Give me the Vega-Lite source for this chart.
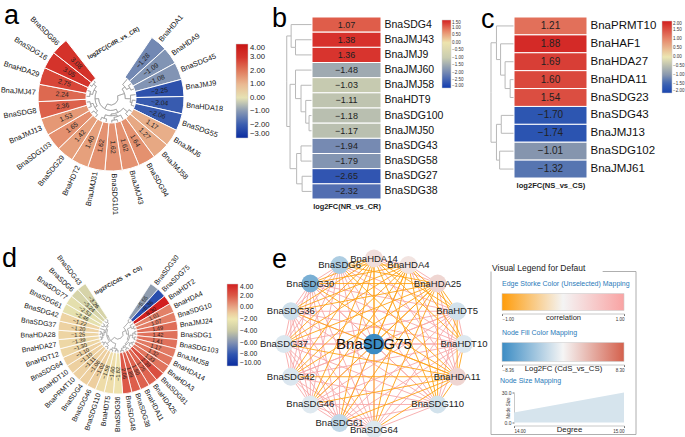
{
"$schema":"https://vega.github.io/schema/vega-lite/v6.json",
"background":"white",
"padding":{"left":0,"top":2,"right":0,"bottom":0},
"config":{"font":"Liberation Sans","view":{"stroke":null},"axis":{"grid":false}},
"datasets":{
"aGenes":[{"g":"BnaHDA1","v":-1.28},{"g":"BnaHDA9","v":-1.09},{"g":"BnaSDG45","v":-1.08},{"g":"BnaJMJ9","v":-2.25},{"g":"BnaHDA18","v":-2.04},{"g":"BnaSDG55","v":-2.06},{"g":"BnaJMJ6","v":1.17},{"g":"BnaJMJ58","v":1.27},{"g":"BnaSDG94","v":1.64},{"g":"BnaJMJ43","v":1.62},{"g":"BnaSDG101","v":1.62},{"g":"BnaJMJ31","v":1.62},{"g":"BnaHDT2","v":1.40},{"g":"BnaSDG29","v":1.42},{"g":"BnaSDG103","v":1.65},{"g":"BnaJMJ13","v":1.53},{"g":"BnaSDG8","v":2.36},{"g":"BnaJMJ47","v":2.24},{"g":"BnaHDA29","v":2.75},{"g":"BnaSDG16","v":3.05},{"g":"BnaSDG86","v":3.08}],
"aTree":[{"id":"L0","p":"n2","t":0.5,"h":0},{"id":"L1","p":"n1","t":1.5,"h":0},{"id":"L2","p":"n1","t":2.5,"h":0},{"id":"L3","p":"n4","t":3.5,"h":0},{"id":"L4","p":"n3","t":4.5,"h":0},{"id":"L5","p":"n3","t":5.5,"h":0},{"id":"L6","p":"n6","t":6.5,"h":0},{"id":"L7","p":"n6","t":7.5,"h":0},{"id":"L8","p":"n8","t":8.5,"h":0},{"id":"L9","p":"n7","t":9.5,"h":0},{"id":"L10","p":"n7","t":10.5,"h":0},{"id":"L11","p":"n9","t":11.5,"h":0},{"id":"L12","p":"n9","t":12.5,"h":0},{"id":"L13","p":"n12","t":13.5,"h":0},{"id":"L14","p":"n12","t":14.5,"h":0},{"id":"L15","p":"n13","t":15.5,"h":0},{"id":"L16","p":"n13","t":16.5,"h":0},{"id":"L17","p":"n15","t":17.5,"h":0},{"id":"L18","p":"n15","t":18.5,"h":0},{"id":"L19","p":"n16","t":19.5,"h":0},{"id":"L20","p":"n16","t":20.5,"h":0},{"id":"n1","p":"n2","t":2.0,"h":2},{"id":"n2","p":"n5","t":1.25,"h":4},{"id":"n3","p":"n4","t":5.0,"h":2},{"id":"n4","p":"n5","t":4.25,"h":3},{"id":"n5","p":"R","t":2.75,"h":6},{"id":"n6","p":"n11","t":7.0,"h":2},{"id":"n7","p":"n8","t":10.0,"h":1.5},{"id":"n8","p":"n10","t":9.25,"h":3},{"id":"n9","p":"n10","t":12.0,"h":2},{"id":"n10","p":"n11","t":10.63,"h":4},{"id":"n11","p":"n19","t":8.81,"h":5},{"id":"n12","p":"n14","t":14.0,"h":2},{"id":"n13","p":"n14","t":16.0,"h":2},{"id":"n14","p":"n18","t":15.0,"h":3.5},{"id":"n15","p":"n17","t":18.0,"h":2},{"id":"n16","p":"n17","t":20.0,"h":1.5},{"id":"n17","p":"n18","t":19.0,"h":3.5},{"id":"n18","p":"n19","t":17.0,"h":5},{"id":"n19","p":"R","t":12.9,"h":7},{"id":"R","p":null,"t":7.83,"h":10}],
"dGenes":[{"g":"BnaSDG30","v":-5.55},{"g":"BnaSDG75","v":-8.36},{"g":"BnaHDT2","v":8.30},{"g":"BnaHDA4","v":1.01},{"g":"BnaSDG10","v":1.07},{"g":"BnaJMJ24","v":1.49},{"g":"BnaSDG1","v":1.42},{"g":"BnaSDG103","v":1.41},{"g":"BnaJMJ58","v":1.17},{"g":"BnaHDA14","v":1.32},{"g":"BnaHDA3","v":1.33},{"g":"BnaSDG81","v":2.38},{"g":"BnaHDA25","v":1.75},{"g":"BnaHDA11","v":1.80},{"g":"BnaSDG38","v":1.89},{"g":"BnaSDG48","v":2.06},{"g":"BnaSDG36","v":-1.82},{"g":"BnaHDT5","v":-1.60},{"g":"BnaSDG110","v":-1.58},{"g":"BnaSDG46","v":-1.02},{"g":"BnaSDG4","v":-1.06},{"g":"BnaPRMT10","v":-1.11},{"g":"BnaHDT10","v":-1.10},{"g":"BnaSDG64","v":-1.10},{"g":"BnaHDT12","v":-1.30},{"g":"BnaHDA27","v":-1.39},{"g":"BnaHDA28","v":-1.25},{"g":"BnaSDG37","v":-1.20},{"g":"BnaSDG42","v":-1.22},{"g":"BnaSDG61","v":-2.46},{"g":"BnaSDG77","v":-2.53},{"g":"BnaSDG6","v":-3.24},{"g":"BnaSDG43","v":-3.26}],
"dTree":[{"id":"L0","p":"d1","t":0.5,"h":0},{"id":"L1","p":"d1","t":1.5,"h":0},{"id":"L2","p":"d3","t":2.5,"h":0},{"id":"L3","p":"d2","t":3.5,"h":0},{"id":"L4","p":"d2","t":4.5,"h":0},{"id":"L5","p":"d4","t":5.5,"h":0},{"id":"L6","p":"d4","t":6.5,"h":0},{"id":"L7","p":"d5","t":7.5,"h":0},{"id":"L8","p":"d5","t":8.5,"h":0},{"id":"L9","p":"d7","t":9.5,"h":0},{"id":"L10","p":"d7","t":10.5,"h":0},{"id":"L11","p":"d8","t":11.5,"h":0},{"id":"L12","p":"d9","t":12.5,"h":0},{"id":"L13","p":"d9","t":13.5,"h":0},{"id":"L14","p":"d10","t":14.5,"h":0},{"id":"L15","p":"d10","t":15.5,"h":0},{"id":"L16","p":"d16","t":16.5,"h":0},{"id":"L17","p":"d16","t":17.5,"h":0},{"id":"L18","p":"d17","t":18.5,"h":0},{"id":"L19","p":"d17","t":19.5,"h":0},{"id":"L20","p":"d19","t":20.5,"h":0},{"id":"L21","p":"d19","t":21.5,"h":0},{"id":"L22","p":"d20","t":22.5,"h":0},{"id":"L23","p":"d20","t":23.5,"h":0},{"id":"L24","p":"d22","t":24.5,"h":0},{"id":"L25","p":"d22","t":25.5,"h":0},{"id":"L26","p":"d23","t":26.5,"h":0},{"id":"L27","p":"d23","t":27.5,"h":0},{"id":"L28","p":"d25","t":28.5,"h":0},{"id":"L29","p":"d26","t":29.5,"h":0},{"id":"L30","p":"d26","t":30.5,"h":0},{"id":"L31","p":"d27","t":31.5,"h":0},{"id":"L32","p":"d27","t":32.5,"h":0},{"id":"d1","p":"d15","t":1.0,"h":2},{"id":"d2","p":"d3","t":4.0,"h":1.5},{"id":"d3","p":"d14","t":3.25,"h":3},{"id":"d4","p":"d6","t":6.0,"h":1.5},{"id":"d5","p":"d6","t":8.0,"h":1.5},{"id":"d6","p":"d13","t":7.0,"h":3},{"id":"d7","p":"d8","t":10.0,"h":1.5},{"id":"d8","p":"d12","t":10.75,"h":2.5},{"id":"d9","p":"d11","t":13.0,"h":1.5},{"id":"d10","p":"d11","t":15.0,"h":1.5},{"id":"d11","p":"d12","t":14.0,"h":3},{"id":"d12","p":"d13","t":12.38,"h":4},{"id":"d13","p":"d14","t":9.69,"h":5},{"id":"d14","p":"d15","t":6.47,"h":6},{"id":"d15","p":"R","t":3.73,"h":7.5},{"id":"d16","p":"d18","t":17.0,"h":2},{"id":"d17","p":"d18","t":19.0,"h":1.5},{"id":"d18","p":"d31","t":18.0,"h":3},{"id":"d19","p":"d21","t":21.0,"h":1.5},{"id":"d20","p":"d21","t":23.0,"h":1.5},{"id":"d21","p":"d30","t":22.0,"h":3},{"id":"d22","p":"d24","t":25.0,"h":1.5},{"id":"d23","p":"d24","t":27.0,"h":1.5},{"id":"d24","p":"d25","t":26.0,"h":2.5},{"id":"d25","p":"d29","t":27.25,"h":3.5},{"id":"d26","p":"d28","t":30.0,"h":2},{"id":"d27","p":"d28","t":32.0,"h":2},{"id":"d28","p":"d29","t":31.0,"h":3.5},{"id":"d29","p":"d30","t":29.13,"h":4.5},{"id":"d30","p":"d31","t":25.56,"h":5.5},{"id":"d31","p":"R","t":21.78,"h":6.5},{"id":"R","p":null,"t":12.76,"h":10}],
"bGenes":[{"g":"BnaSDG4","v":1.07,"col":"log2FC(NR_vs_CR)"},{"g":"BnaJMJ43","v":1.38,"col":"log2FC(NR_vs_CR)"},{"g":"BnaJMJ9","v":1.36,"col":"log2FC(NR_vs_CR)"},{"g":"BnaJMJ60","v":-1.48,"col":"log2FC(NR_vs_CR)"},{"g":"BnaJMJ58","v":-1.03,"col":"log2FC(NR_vs_CR)"},{"g":"BnaHDT9","v":-1.11,"col":"log2FC(NR_vs_CR)"},{"g":"BnaSDG100","v":-1.18,"col":"log2FC(NR_vs_CR)"},{"g":"BnaJMJ50","v":-1.17,"col":"log2FC(NR_vs_CR)"},{"g":"BnaSDG43","v":-1.94,"col":"log2FC(NR_vs_CR)"},{"g":"BnaSDG58","v":-1.79,"col":"log2FC(NR_vs_CR)"},{"g":"BnaSDG27","v":-2.65,"col":"log2FC(NR_vs_CR)"},{"g":"BnaSDG38","v":-2.32,"col":"log2FC(NR_vs_CR)"}],
"bTree":[{"id":"L0","p":"B","y":0.5,"h":0},{"id":"L1","p":"A","y":1.5,"h":0},{"id":"L2","p":"A","y":2.5,"h":0},{"id":"L3","p":"F","y":3.5,"h":0},{"id":"L4","p":"E","y":4.5,"h":0},{"id":"L5","p":"D","y":5.5,"h":0},{"id":"L6","p":"C","y":6.5,"h":0},{"id":"L7","p":"C","y":7.5,"h":0},{"id":"L8","p":"G","y":8.5,"h":0},{"id":"L9","p":"G","y":9.5,"h":0},{"id":"L10","p":"H","y":10.5,"h":0},{"id":"L11","p":"H","y":11.5,"h":0},{"id":"A","p":"B","y":2.0,"h":15},{"id":"B","p":"R","y":1.25,"h":19},{"id":"C","p":"D","y":7.0,"h":2.7},{"id":"D","p":"E","y":6.25,"h":5.7},{"id":"E","p":"F","y":5.38,"h":10},{"id":"F","p":"I","y":4.44,"h":15},{"id":"G","p":"J","y":9.0,"h":10},{"id":"H","p":"J","y":11.0,"h":9},{"id":"J","p":"I","y":10.0,"h":14},{"id":"I","p":"R","y":7.22,"h":20},{"id":"R","p":null,"y":4.23,"h":23}],
"cGenes":[{"g":"BnaPRMT10","v":1.21,"col":"log2FC(NS_vs_CS)"},{"g":"BnaHAF1","v":1.88,"col":"log2FC(NS_vs_CS)"},{"g":"BnaHDA27","v":1.69,"col":"log2FC(NS_vs_CS)"},{"g":"BnaHDA11","v":1.60,"col":"log2FC(NS_vs_CS)"},{"g":"BnaSDG23","v":1.54,"col":"log2FC(NS_vs_CS)"},{"g":"BnaSDG43","v":-1.70,"col":"log2FC(NS_vs_CS)"},{"g":"BnaJMJ13","v":-1.74,"col":"log2FC(NS_vs_CS)"},{"g":"BnaSDG102","v":-1.01,"col":"log2FC(NS_vs_CS)"},{"g":"BnaJMJ61","v":-1.32,"col":"log2FC(NS_vs_CS)"}],
"cTree":[{"id":"L0","p":"D","y":0.5,"h":0},{"id":"L1","p":"C","y":1.5,"h":0},{"id":"L2","p":"B","y":2.5,"h":0},{"id":"L3","p":"A","y":3.5,"h":0},{"id":"L4","p":"A","y":4.5,"h":0},{"id":"L5","p":"E","y":5.5,"h":0},{"id":"L6","p":"E","y":6.5,"h":0},{"id":"L7","p":"F","y":7.5,"h":0},{"id":"L8","p":"F","y":8.5,"h":0},{"id":"A","p":"B","y":4.0,"h":4},{"id":"B","p":"C","y":3.25,"h":9.3},{"id":"C","p":"D","y":2.38,"h":14},{"id":"D","p":"R","y":1.44,"h":18.3},{"id":"E","p":"G","y":6.0,"h":13.3},{"id":"F","p":"G","y":8.0,"h":15},{"id":"G","p":"R","y":7.0,"h":18.3},{"id":"R","p":null,"y":4.22,"h":24}],
"nodes":[{"id":"SDG75","g":"BnaSDG75","fc":-8.36,"deg":15,"pos":null},{"id":"HDA14","g":"BnaHDA14","fc":1.32,"deg":14,"pos":0},{"id":"HDA4","g":"BnaHDA4","fc":1.01,"deg":14,"pos":1},{"id":"HDA25","g":"BnaHDA25","fc":1.75,"deg":14,"pos":2},{"id":"HDT5","g":"BnaHDT5","fc":-1.60,"deg":14,"pos":3},{"id":"HDT10","g":"BnaHDT10","fc":-1.10,"deg":14,"pos":4},{"id":"HDA11","g":"BnaHDA11","fc":1.80,"deg":14,"pos":5},{"id":"SDG110","g":"BnaSDG110","fc":-1.58,"deg":14,"pos":6},{"id":"SDG64","g":"BnaSDG64","fc":-1.10,"deg":14,"pos":8},{"id":"SDG61","g":"BnaSDG61","fc":-2.46,"deg":14,"pos":9},{"id":"SDG46","g":"BnaSDG46","fc":-1.02,"deg":14,"pos":10},{"id":"SDG42","g":"BnaSDG42","fc":-1.22,"deg":14,"pos":11},{"id":"SDG37","g":"BnaSDG37","fc":-1.20,"deg":14,"pos":12},{"id":"SDG36","g":"BnaSDG36","fc":-1.82,"deg":14,"pos":13},{"id":"SDG30","g":"BnaSDG30","fc":-5.55,"deg":14,"pos":14},{"id":"SDG6","g":"BnaSDG6","fc":-3.24,"deg":14,"pos":15}],
"edges":[{"s":"SDG75","t":["HDT5","HDT10","SDG110","SDG64","SDG61","SDG46","SDG42","SDG37","SDG36","SDG30","SDG6"],"c":0.9},{"s":"HDT5","t":["HDT10","SDG110","SDG64","SDG61","SDG46","SDG42","SDG37","SDG36","SDG30","SDG6"],"c":0.9},{"s":"HDT10","t":["SDG110","SDG64","SDG61","SDG46","SDG42","SDG37","SDG36","SDG30","SDG6"],"c":0.9},{"s":"SDG110","t":["SDG64","SDG61","SDG46","SDG42","SDG37","SDG36","SDG30","SDG6"],"c":0.9},{"s":"SDG64","t":["SDG61","SDG46","SDG42","SDG37","SDG36","SDG30","SDG6"],"c":0.9},{"s":"SDG61","t":["SDG46","SDG42","SDG37","SDG36","SDG30","SDG6"],"c":0.9},{"s":"SDG46","t":["SDG42","SDG37","SDG36","SDG30","SDG6"],"c":0.9},{"s":"SDG42","t":["SDG37","SDG36","SDG30","SDG6"],"c":0.9},{"s":"SDG37","t":["SDG36","SDG30","SDG6"],"c":0.9},{"s":"SDG36","t":["SDG30","SDG6"],"c":0.9},{"s":"SDG30","t":["SDG6"],"c":0.9},{"s":"HDA14","t":["HDA4","HDA25","HDA11"],"c":0.9},{"s":"HDA4","t":["HDA25","HDA11"],"c":0.9},{"s":"HDA25","t":["HDA11"],"c":0.9},{"s":"HDA14","t":["SDG75","HDT5","HDT10","SDG110","SDG64","SDG61","SDG46","SDG42","SDG37","SDG36","SDG30","SDG6"],"c":-0.9},{"s":"HDA4","t":["SDG75","HDT5","HDT10","SDG110","SDG64","SDG61","SDG46","SDG42","SDG37","SDG36","SDG30","SDG6"],"c":-0.9},{"s":"HDA25","t":["SDG75","HDT5","HDT10","SDG110","SDG64","SDG61","SDG46","SDG42","SDG37","SDG36","SDG30","SDG6"],"c":-0.9},{"s":"HDA11","t":["SDG75","HDT5","HDT10","SDG110","SDG64","SDG61","SDG46","SDG42","SDG37","SDG36","SDG30","SDG6"],"c":-0.9}],
"corrLeg":[{"lo":-1,"hi":1}],
"fcLeg":[{"lo":-8.36,"hi":8.30}],
"sizeLeg":[{"deg":14,"sz":10},{"deg":15,"sz":30}]
},
"spacing":241.5,
"bounds":"flush",
"resolve":{"scale":{"color":"independent","theta":"independent","radius":"independent","size":"independent"}},
"vconcat":[
{"hconcat":[
 {"width":220,"height":162,
  "title":{"text":"a","anchor":"start","frame":"group","fontSize":27,"fontWeight":"normal","baseline":"alphabetic","offset":-38,"dx":3,"color":"#000"},
  "layer":[
   {"data":{"name":"aTree"},"transform":[{"filter":"datum.p != null"},{"lookup":"p","from":{"data":{"name":"aTree"},"key":"id","fields":["t","h"]},"as":["tp","hp"]}],
    "mark":{"type":"arc","fillOpacity":0,"stroke":"#9a9a9a","strokeWidth":0.6},
    "encoding":{"theta":{"field":"t","type":"quantitative","stack":null,"scale":{"domain":[0,21],"range":[0.5934,5.6199]}},"theta2":{"field":"t"},"radius":{"field":"h","type":"quantitative","scale":{"type":"linear","domain":[0,10],"range":[25,7]}},"radius2":{"field":"hp"}}},
   {"data":{"name":"aTree"},"transform":[{"filter":"datum.p != null"},{"lookup":"p","from":{"data":{"name":"aTree"},"key":"id","fields":["t","h"]},"as":["tp","hp"]}],
    "mark":{"type":"arc","fillOpacity":0,"stroke":"#9a9a9a","strokeWidth":0.6},
    "encoding":{"theta":{"field":"t","type":"quantitative","stack":null,"scale":{"domain":[0,21],"range":[0.5934,5.6199]}},"theta2":{"field":"tp"},"radius":{"field":"hp","type":"quantitative","scale":{"type":"linear","domain":[0,10],"range":[25,7]}},"radius2":{"field":"hp"}}},
   {"data":{"name":"aGenes"},"transform":[{"window":[{"op":"row_number","as":"k"}]},{"calculate":"datum.k-1","as":"i0"},{"calculate":"datum.k","as":"i1"}],
    "mark":{"type":"arc","innerRadius":25,"outerRadius":73,"stroke":"#ffffff","strokeWidth":1},
    "encoding":{"theta":{"field":"i0","type":"quantitative","stack":null,"scale":{"domain":[0,21],"range":[0.5934,5.6199]}},"theta2":{"field":"i1"},
     "color":{"field":"v","type":"quantitative","scale":{"domain":[-3,-2,-1,0,1,2,3,4],"range":["#0a2ca0","#3a5db0","#8899b4","#e6e2b4","#eab992","#e07a5c","#d5352c","#c81414"],"interpolate":"rgb","clamp":true},
      "legend":{"orient":"none","legendX":235,"legendY":27,"direction":"vertical","gradientLength":94,"gradientThickness":12,"title":null,"values":[4,3,2,1,0,-1,-2,-3],"format":".2f","labelFontSize":7.7,"labelColor":"#222","labelOverlap":false,"gradientStrokeColor":"#cccccc","gradientStrokeWidth":0.5}}}},
   {"data":{"name":"aGenes"},"transform":[{"window":[{"op":"row_number","as":"k"}]},{"calculate":"datum.k-0.5","as":"im"},{"calculate":"34+datum.im*288/21","as":"ang"},{"calculate":"datum.ang<180?datum.ang-90:datum.ang-270","as":"rot"}],
    "mark":{"type":"text","radius":49,"fontSize":6.8,"color":"#222222","align":"center","baseline":"middle"},
    "encoding":{"theta":{"field":"im","type":"quantitative","stack":null,"scale":{"domain":[0,21],"range":[0.5934,5.6199]}},"text":{"field":"v","type":"quantitative","format":".2f"},"angle":{"field":"rot","type":"quantitative","scale":null}}},
   {"data":{"name":"aGenes"},"transform":[{"window":[{"op":"row_number","as":"k"}]},{"calculate":"datum.k-0.5","as":"im"},{"calculate":"34+datum.im*288/21","as":"ang"},{"calculate":"datum.ang<180?datum.ang-90:datum.ang-270","as":"rot"},{"filter":"datum.ang<180"}],
    "mark":{"type":"text","radius":75.5,"fontSize":7.4,"color":"#111111","align":"left","baseline":"middle"},
    "encoding":{"theta":{"field":"im","type":"quantitative","stack":null,"scale":{"domain":[0,21],"range":[0.5934,5.6199]}},"text":{"field":"g"},"angle":{"field":"rot","type":"quantitative","scale":null}}},
   {"data":{"name":"aGenes"},"transform":[{"window":[{"op":"row_number","as":"k"}]},{"calculate":"datum.k-0.5","as":"im"},{"calculate":"34+datum.im*288/21","as":"ang"},{"calculate":"datum.ang<180?datum.ang-90:datum.ang-270","as":"rot"},{"filter":"datum.ang>=180"}],
    "mark":{"type":"text","radius":75.5,"fontSize":7.4,"color":"#111111","align":"right","baseline":"middle"},
    "encoding":{"theta":{"field":"im","type":"quantitative","stack":null,"scale":{"domain":[0,21],"range":[0.5934,5.6199]}},"text":{"field":"g"},"angle":{"field":"rot","type":"quantitative","scale":null}}},
   {"data":{"values":[{"txt":"log2FC(CdR_vs_CR)"}]},
    "mark":{"type":"text","radius":55,"angle":-30,"fontSize":6,"fontWeight":"bold","color":"#222222","align":"center","baseline":"middle"},
    "encoding":{"theta":{"datum":-2.3,"type":"quantitative","stack":null,"scale":{"domain":[0,21],"range":[0.5934,5.6199]}},"text":{"field":"txt"}}}
  ]},
 {"width":63,"height":1,"data":{"values":[{}]},"mark":{"type":"point","opacity":0},"encoding":{}},
 {"width":28,"height":182,
  "title":{"text":"b","anchor":"start","frame":"group","fontSize":27,"fontWeight":"normal","baseline":"alphabetic","offset":-37,"dx":-12,"color":"#000"},
  "data":{"name":"bTree"},
  "transform":[{"filter":"datum.p != null"},{"lookup":"p","from":{"data":{"name":"bTree"},"key":"id","fields":["h","y"]},"as":["hp","yp"]}],
  "layer":[
   {"mark":{"type":"rule","color":"#b8b8b8","strokeWidth":1},"encoding":{"x":{"field":"h","type":"quantitative","scale":{"domain":[0,25.5],"reverse":true,"nice":false,"zero":false},"axis":null},"x2":{"field":"hp"},"y":{"field":"y","type":"quantitative","scale":{"domain":[0,12],"reverse":true,"nice":false,"zero":false},"axis":null}}},
   {"mark":{"type":"rule","color":"#b8b8b8","strokeWidth":1},"encoding":{"x":{"field":"hp","type":"quantitative","scale":{"domain":[0,25.5],"reverse":true,"nice":false,"zero":false},"axis":null},"y":{"field":"y","type":"quantitative","scale":{"domain":[0,12],"reverse":true,"nice":false,"zero":false},"axis":null},"y2":{"field":"yp"}}}
  ]},
 {"width":69,"height":182,"data":{"name":"bGenes"},
  "encoding":{"y":{"field":"g","type":"nominal","sort":null,"scale":{"paddingInner":0,"paddingOuter":0},"axis":{"orient":"right","title":null,"ticks":false,"domain":false,"labelFontSize":10.5,"labelPadding":3,"labelColor":"#111"}},
   "x":{"field":"col","type":"nominal","scale":{"paddingInner":0,"paddingOuter":0},"axis":{"orient":"bottom","labels":false,"ticks":false,"domain":false,"title":"log2FC(NR_vs_CR)","titleFontSize":7.4,"titleFontWeight":"bold","titlePadding":3,"titleColor":"#222"}}},
  "layer":[
   {"mark":{"type":"rect","stroke":"#ffffff","strokeWidth":1},"encoding":{"color":{"field":"v","type":"quantitative","scale":{"domain":[-3,-2,-1,0,0.75,1.5],"range":["#0f3bb0","#7186b2","#c9ccb0","#ede4ae","#e88a6a","#d42020"],"interpolate":"rgb","clamp":true},
     "legend":{"orient":"none","legendX":130,"legendY":3,"direction":"vertical","gradientLength":68,"gradientThickness":9,"title":null,"values":[1.5,1,0.5,0,-0.5,-1,-1.5,-2,-2.5,-3],"format":".2f","labelFontSize":4.5,"labelOffset":1,"labelColor":"#333","labelOverlap":false,"gradientStrokeColor":"#cccccc","gradientStrokeWidth":0.5}}}},
   {"mark":{"type":"text","fontSize":9,"color":"#222222"},"encoding":{"text":{"field":"v","type":"quantitative","format":".2f"}}}
  ]},
 {"width":110,"height":1,"data":{"values":[{}]},"mark":{"type":"point","opacity":0},"encoding":{}},
 {"width":23,"height":161,
  "title":{"text":"c","anchor":"start","frame":"group","fontSize":27,"fontWeight":"normal","baseline":"alphabetic","offset":-38,"dx":-10,"color":"#000"},
  "data":{"name":"cTree"},
  "transform":[{"filter":"datum.p != null"},{"lookup":"p","from":{"data":{"name":"cTree"},"key":"id","fields":["h","y"]},"as":["hp","yp"]}],
  "layer":[
   {"mark":{"type":"rule","color":"#b8b8b8","strokeWidth":1},"encoding":{"x":{"field":"h","type":"quantitative","scale":{"domain":[0,24],"reverse":true,"nice":false,"zero":false},"axis":null},"x2":{"field":"hp"},"y":{"field":"y","type":"quantitative","scale":{"domain":[0,9],"reverse":true,"nice":false,"zero":false},"axis":null}}},
   {"mark":{"type":"rule","color":"#b8b8b8","strokeWidth":1},"encoding":{"x":{"field":"hp","type":"quantitative","scale":{"domain":[0,24],"reverse":true,"nice":false,"zero":false},"axis":null},"y":{"field":"y","type":"quantitative","scale":{"domain":[0,9],"reverse":true,"nice":false,"zero":false},"axis":null},"y2":{"field":"yp"}}}
  ]},
 {"width":73,"height":161,"data":{"name":"cGenes"},
  "encoding":{"y":{"field":"g","type":"nominal","sort":null,"scale":{"paddingInner":0,"paddingOuter":0},"axis":{"orient":"right","title":null,"ticks":false,"domain":false,"labelFontSize":11.5,"labelPadding":3,"labelColor":"#111"}},
   "x":{"field":"col","type":"nominal","scale":{"paddingInner":0,"paddingOuter":0},"axis":{"orient":"bottom","labels":false,"ticks":false,"domain":false,"title":"log2FC(NS_vs_CS)","titleFontSize":7.6,"titleFontWeight":"bold","titlePadding":3,"titleColor":"#222"}}},
  "layer":[
   {"mark":{"type":"rect","stroke":"#ffffff","strokeWidth":1},"encoding":{"color":{"field":"v","type":"quantitative","scale":{"domain":[-2,-1.5,-1,0,1,2],"range":["#1a45b0","#3a62b2","#8796ae","#ece6b2","#e6866a","#d21e1e"],"interpolate":"rgb","clamp":true},
     "legend":{"orient":"none","legendX":148,"legendY":4,"direction":"vertical","gradientLength":72,"gradientThickness":10,"title":null,"values":[2,1.5,1,0.5,0,-0.5,-1,-1.5,-2],"format":".2f","labelFontSize":4.5,"labelOffset":1,"labelColor":"#333","labelOverlap":false,"gradientStrokeColor":"#cccccc","gradientStrokeWidth":0.5}}}},
   {"mark":{"type":"text","fontSize":10,"color":"#222222"},"encoding":{"text":{"field":"v","type":"quantitative","format":".2f"}}}
  ]}
 ],"spacing":0,"bounds":"flush","resolve":{"scale":{"color":"independent","theta":"independent","radius":"independent","size":"independent"}}},
{"hconcat":[
 {"width":234,"height":151,
  "title":{"text":"d","anchor":"start","frame":"group","fontSize":27,"fontWeight":"normal","baseline":"alphabetic","offset":-40,"dx":1,"color":"#000"},
  "layer":[
   {"data":{"name":"dTree"},"transform":[{"filter":"datum.p != null"},{"lookup":"p","from":{"data":{"name":"dTree"},"key":"id","fields":["t","h"]},"as":["tp","hp"]}],
    "mark":{"type":"arc","fillOpacity":0,"stroke":"#9a9a9a","strokeWidth":0.5},
    "encoding":{"theta":{"field":"t","type":"quantitative","stack":null,"scale":{"domain":[0,33],"range":[0.5760,5.7072]}},"theta2":{"field":"t"},"radius":{"field":"h","type":"quantitative","scale":{"type":"linear","domain":[0,10],"range":[19,5]}},"radius2":{"field":"hp"}}},
   {"data":{"name":"dTree"},"transform":[{"filter":"datum.p != null"},{"lookup":"p","from":{"data":{"name":"dTree"},"key":"id","fields":["t","h"]},"as":["tp","hp"]}],
    "mark":{"type":"arc","fillOpacity":0,"stroke":"#9a9a9a","strokeWidth":0.5},
    "encoding":{"theta":{"field":"t","type":"quantitative","stack":null,"scale":{"domain":[0,33],"range":[0.5760,5.7072]}},"theta2":{"field":"tp"},"radius":{"field":"hp","type":"quantitative","scale":{"type":"linear","domain":[0,10],"range":[19,5]}},"radius2":{"field":"hp"}}},
   {"data":{"name":"dGenes"},"transform":[{"window":[{"op":"row_number","as":"k"}]},{"calculate":"datum.k-1","as":"i0"},{"calculate":"datum.k","as":"i1"}],
    "mark":{"type":"arc","innerRadius":19,"outerRadius":60,"stroke":"#ffffff","strokeWidth":0.8},
    "encoding":{"theta":{"field":"i0","type":"quantitative","stack":null,"scale":{"domain":[0,33],"range":[0.5760,5.7072]}},"theta2":{"field":"i1"},
     "color":{"field":"v","type":"quantitative","scale":{"domain":[-10,-8,-6,-4,-2,-1,0,2,4],"range":["#0a2ca0","#3055b0","#8090b2","#c8c8a4","#eee7b0","#edcd9e","#e8a888","#dc5a48","#d21f1f"],"interpolate":"rgb","clamp":true},
      "legend":{"orient":"none","legendX":226,"legendY":25.5,"direction":"vertical","gradientLength":82,"gradientThickness":11,"title":null,"values":[4,2,0,-2,-4,-6,-8,-10],"format":".2f","labelFontSize":6.8,"labelColor":"#222","labelOverlap":false,"gradientStrokeColor":"#cccccc","gradientStrokeWidth":0.5}}}},
   {"data":{"name":"dGenes"},"transform":[{"window":[{"op":"row_number","as":"k"}]},{"calculate":"datum.k-0.5","as":"im"},{"calculate":"33+datum.im*294/33","as":"ang"},{"calculate":"datum.ang<180?datum.ang-90:datum.ang-270","as":"rot"}],
    "mark":{"type":"text","radius":40,"fontSize":5.6,"color":"#222222","align":"center","baseline":"middle"},
    "encoding":{"theta":{"field":"im","type":"quantitative","stack":null,"scale":{"domain":[0,33],"range":[0.5760,5.7072]}},"text":{"field":"v","type":"quantitative","format":".2f"},"angle":{"field":"rot","type":"quantitative","scale":null}}},
   {"data":{"name":"dGenes"},"transform":[{"window":[{"op":"row_number","as":"k"}]},{"calculate":"datum.k-0.5","as":"im"},{"calculate":"33+datum.im*294/33","as":"ang"},{"calculate":"datum.ang<180?datum.ang-90:datum.ang-270","as":"rot"},{"filter":"datum.ang<180"}],
    "mark":{"type":"text","radius":62.5,"fontSize":7,"color":"#111111","align":"left","baseline":"middle"},
    "encoding":{"theta":{"field":"im","type":"quantitative","stack":null,"scale":{"domain":[0,33],"range":[0.5760,5.7072]}},"text":{"field":"g"},"angle":{"field":"rot","type":"quantitative","scale":null}}},
   {"data":{"name":"dGenes"},"transform":[{"window":[{"op":"row_number","as":"k"}]},{"calculate":"datum.k-0.5","as":"im"},{"calculate":"33+datum.im*294/33","as":"ang"},{"calculate":"datum.ang<180?datum.ang-90:datum.ang-270","as":"rot"},{"filter":"datum.ang>=180"}],
    "mark":{"type":"text","radius":62.5,"fontSize":7,"color":"#111111","align":"right","baseline":"middle"},
    "encoding":{"theta":{"field":"im","type":"quantitative","stack":null,"scale":{"domain":[0,33],"range":[0.5760,5.7072]}},"text":{"field":"g"},"angle":{"field":"rot","type":"quantitative","scale":null}}},
   {"data":{"values":[{"txt":"log2FC(CdS_vs_CS)"}]},
    "mark":{"type":"text","radius":54,"angle":-29,"fontSize":5.5,"fontWeight":"bold","color":"#222222","align":"center","baseline":"middle"},
    "encoding":{"theta":{"datum":-3.7,"type":"quantitative","stack":null,"scale":{"domain":[0,33],"range":[0.5760,5.7072]}},"text":{"field":"txt"}}}
  ]},
 {"width":49,"height":1,"data":{"values":[{}]},"mark":{"type":"point","opacity":0},"encoding":{}},
 {"width":180,"height":171,
  "title":{"text":"e","anchor":"start","frame":"group","fontSize":27,"fontWeight":"normal","baseline":"alphabetic","offset":-45,"dx":-12,"color":"#000"},
  "layer":[
   {"data":{"name":"edges"},"transform":[{"flatten":["t"]},{"lookup":"s","from":{"data":{"name":"nodes"},"key":"id","fields":["pos"]},"as":["ps"]},{"lookup":"t","from":{"data":{"name":"nodes"},"key":"id","fields":["pos"]},"as":["pt"]},{"calculate":"datum.ps==null?0:sin(2*PI*datum.ps/16)","as":"x1"},{"calculate":"datum.ps==null?0:cos(2*PI*datum.ps/16)","as":"y1"},{"calculate":"datum.pt==null?0:sin(2*PI*datum.pt/16)","as":"x2"},{"calculate":"datum.pt==null?0:cos(2*PI*datum.pt/16)","as":"y2"}],
    "mark":{"type":"rule","strokeWidth":1,"opacity":0.9},
    "encoding":{"x":{"field":"x1","type":"quantitative","scale":{"domain":[-1,1],"nice":false,"zero":false},"axis":null},"y":{"field":"y1","type":"quantitative","scale":{"domain":[-1,1],"nice":false,"zero":false},"axis":null},"x2":{"field":"x2"},"y2":{"field":"y2"},
     "color":{"field":"c","type":"quantitative","scale":{"domain":[-1,0,1],"range":["#ff9a00","#f5f5f5","#f7a0a0"],"interpolate":"rgb"},"legend":null}}},
   {"data":{"name":"nodes"},"transform":[{"calculate":"datum.pos==null?0:sin(2*PI*datum.pos/16)","as":"x"},{"calculate":"datum.pos==null?0:cos(2*PI*datum.pos/16)","as":"y"}],
    "mark":{"type":"circle","opacity":1},
    "encoding":{"x":{"field":"x","type":"quantitative","scale":{"domain":[-1,1],"nice":false,"zero":false},"axis":null},"y":{"field":"y","type":"quantitative","scale":{"domain":[-1,1],"nice":false,"zero":false},"axis":null},
     "size":{"field":"deg","type":"quantitative","scale":{"domain":[14,15],"range":[320,430]},"legend":null},
     "color":{"field":"fc","type":"quantitative","scale":{"domain":[-8.36,0,8.3],"range":["#3a8bc3","#f6f6f6","#d5604c"],"interpolate":"rgb"},"legend":null}}},
   {"data":{"name":"nodes"},"transform":[{"filter":"datum.pos != null"},{"calculate":"sin(2*PI*datum.pos/16)","as":"x"},{"calculate":"cos(2*PI*datum.pos/16)","as":"y"}],
    "mark":{"type":"text","fontSize":9.5,"color":"#222222"},
    "encoding":{"x":{"field":"x","type":"quantitative","scale":{"domain":[-1,1],"nice":false,"zero":false},"axis":null},"y":{"field":"y","type":"quantitative","scale":{"domain":[-1,1],"nice":false,"zero":false},"axis":null},"text":{"field":"g"}}},
   {"data":{"name":"nodes"},"transform":[{"filter":"datum.pos == null"},{"calculate":"0","as":"x"},{"calculate":"0","as":"y"}],
    "mark":{"type":"text","fontSize":15,"color":"#111111"},
    "encoding":{"x":{"field":"x","type":"quantitative","scale":{"domain":[-1,1],"nice":false,"zero":false},"axis":null},"y":{"field":"y","type":"quantitative","scale":{"domain":[-1,1],"nice":false,"zero":false},"axis":null},"text":{"field":"g"}}}
  ],
  "resolve":{"scale":{"color":"independent","size":"independent"}}},
 {"width":27,"height":1,"data":{"values":[{}]},"mark":{"type":"point","opacity":0},"encoding":{}},
 {"vconcat":[
  {"width":1,"height":12.5,"data":{"values":[{}]},"mark":{"type":"point","opacity":0},"encoding":{}},
  {"hconcat":[
   {"width":145,"height":163,
    "title":{"text":"Visual Legend for Defaut","anchor":"start","frame":"group","fontSize":8.5,"fontWeight":"normal","color":"#222222","baseline":"middle","offset":-5,"dx":1},
    "data":{"values":[{}]},
    "layer":[
     {"mark":{"type":"rule","color":"#9a9a9a","strokeWidth":0.8},"encoding":{"x":{"datum":0,"type":"quantitative","scale":{"domain":[0,1]},"axis":null},"y":{"datum":0,"type":"quantitative","scale":{"domain":[0,1]},"axis":null},"y2":{"datum":1}}},
     {"mark":{"type":"rule","color":"#9a9a9a","strokeWidth":0.8},"encoding":{"x":{"datum":1,"type":"quantitative","scale":{"domain":[0,1]},"axis":null},"y":{"datum":0,"type":"quantitative","scale":{"domain":[0,1]},"axis":null},"y2":{"datum":1}}},
     {"mark":{"type":"rule","color":"#9a9a9a","strokeWidth":0.8},"encoding":{"x":{"datum":0,"type":"quantitative","scale":{"domain":[0,1]},"axis":null},"x2":{"datum":1},"y":{"datum":0,"type":"quantitative","scale":{"domain":[0,1]},"axis":null}}},
     {"mark":{"type":"rule","color":"#9a9a9a","strokeWidth":0.8},"encoding":{"x":{"datum":0.77,"type":"quantitative","scale":{"domain":[0,1]},"axis":null},"x2":{"datum":1},"y":{"datum":1,"type":"quantitative","scale":{"domain":[0,1]},"axis":null}}}
    ]}
  ],"bounds":"flush"},
  {"width":1,"height":22,"data":{"values":[{}]},"mark":{"type":"point","opacity":0},"encoding":{}},
  {"hconcat":[
   {"width":11,"height":1,"data":{"values":[{}]},"mark":{"type":"point","opacity":0},"encoding":{}},
   {"width":122,"height":17,
    "title":{"text":"Edge Storke Color (Unselected) Mapping","anchor":"start","frame":"group","fontSize":7,"fontWeight":"normal","color":"#2a7ab9","baseline":"alphabetic","offset":0.5},
    "data":{"name":"corrLeg"},
    "mark":{"type":"rect","fill":{"gradient":"linear","x1":0,"y1":0,"x2":1,"y2":0,"stops":[{"offset":0,"color":"#ff9c0a"},{"offset":0.5,"color":"#f4f4f4"},{"offset":1,"color":"#f9a3a3"}]},"stroke":"#cfcfcf","strokeWidth":0.6},
    "encoding":{"x":{"field":"lo","type":"quantitative","scale":{"domain":[-1,1],"nice":false,"zero":false},"axis":{"values":[-1,1],"format":".2f","offset":3,"labelFlush":true,"labelFontSize":4.5,"labelColor":"#333","labelPadding":1,"tickSize":2,"tickColor":"#777","domainColor":"#c8c8c8","title":"correlation","titleFontSize":7.5,"titleFontWeight":"normal","titleColor":"#222","titlePadding":-8}},"x2":{"field":"hi"},
     "y":{"datum":0,"type":"quantitative","scale":{"domain":[0,1]},"axis":null},"y2":{"datum":1}}}
  ],"spacing":0,"bounds":"flush"},
  {"width":1,"height":48.5,"data":{"values":[{}]},"mark":{"type":"point","opacity":0},"encoding":{}},
  {"hconcat":[
   {"width":11,"height":1,"data":{"values":[{}]},"mark":{"type":"point","opacity":0},"encoding":{}},
   {"width":122,"height":19,
    "title":{"text":"Node Fill Color Mapping","anchor":"start","frame":"group","fontSize":7,"fontWeight":"normal","color":"#2a7ab9","baseline":"alphabetic","offset":0},
    "data":{"name":"fcLeg"},
    "mark":{"type":"rect","fill":{"gradient":"linear","x1":0,"y1":0,"x2":1,"y2":0,"stops":[{"offset":0,"color":"#3b8cc4"},{"offset":0.5,"color":"#f5f5f5"},{"offset":1,"color":"#d4604c"}]},"stroke":"#cfcfcf","strokeWidth":0.6},
    "encoding":{"x":{"field":"lo","type":"quantitative","scale":{"domain":[-8.36,8.3],"nice":false,"zero":false},"axis":{"values":[-8.36,8.3],"format":".2f","offset":3,"labelFlush":true,"labelFontSize":4.5,"labelColor":"#333","labelPadding":1,"tickSize":2,"tickColor":"#777","domainColor":"#c8c8c8","title":"Log2FC (CdS_vs_CS)","titleFontSize":7.8,"titleFontWeight":"normal","titleColor":"#222","titlePadding":-8}},"x2":{"field":"hi"},
     "y":{"datum":0,"type":"quantitative","scale":{"domain":[0,1]},"axis":null},"y2":{"datum":1}}}
  ],"spacing":0,"bounds":"flush"},
  {"width":1,"height":49.5,"data":{"values":[{}]},"mark":{"type":"point","opacity":0},"encoding":{}},
  {"hconcat":[
   {"width":23,"height":1,"data":{"values":[{}]},"mark":{"type":"point","opacity":0},"encoding":{}},
   {"width":110,"height":30,
    "title":{"text":"Node Size Mapping","anchor":"start","frame":"group","fontSize":7,"fontWeight":"normal","color":"#2a7ab9","baseline":"alphabetic","offset":0.5,"dx":-14},
    "data":{"name":"sizeLeg"},
    "mark":{"type":"area","color":"#d6e4ed"},
    "encoding":{"x":{"field":"deg","type":"quantitative","scale":{"domain":[14,15],"nice":false,"zero":false},"axis":{"values":[14,15],"format":".2f","offset":3,"labelFlush":true,"labelFontSize":4.5,"labelColor":"#333","labelPadding":1,"tickSize":2,"tickColor":"#777","domainColor":"#c8c8c8","title":"Degree","titleFontSize":7.8,"titleFontWeight":"normal","titleColor":"#222","titlePadding":-8}},
     "y":{"field":"sz","type":"quantitative","scale":{"domain":[0,30],"nice":false},"axis":{"values":[0,30],"format":".1f","labelFontSize":5,"labelColor":"#333","labelPadding":1,"tickSize":2,"tickColor":"#777","domainColor":"#c8c8c8","title":"Node Size","titleFontSize":4.5,"titleFontWeight":"normal","titleColor":"#333","titlePadding":-9}}}}
  ],"spacing":0,"bounds":"flush"}
 ],"spacing":0,"bounds":"flush"}
 ],"spacing":0,"bounds":"flush","resolve":{"scale":{"color":"independent","theta":"independent","radius":"independent","size":"independent"}}}
]
}
